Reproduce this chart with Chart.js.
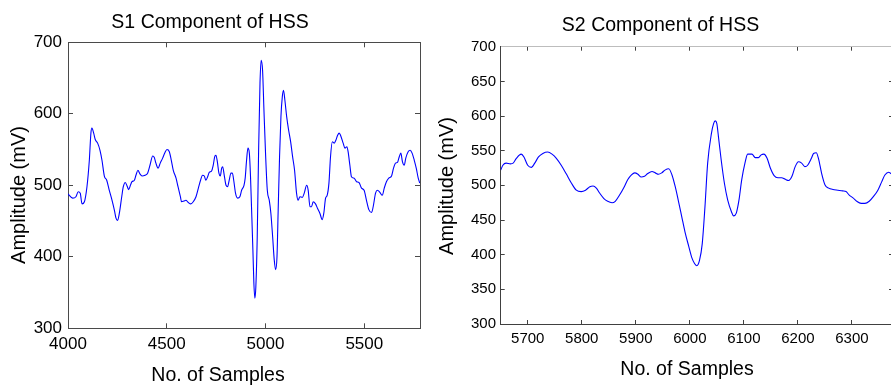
<!DOCTYPE html>
<html>
<head>
<meta charset="utf-8">
<script src="https://cdn.jsdelivr.net/npm/chart.js@4"></script>
<style>
  body { margin: 0; background: #fff; overflow: hidden; width: 891px; height: 387px; position: relative; }
  canvas { position: absolute; top: 0; }
  #s1Chart { left: 0; }
  #s2Chart { left: 428px; }
</style>
</head>
<body>
<canvas id="s1Chart" width="448" height="387"></canvas>
<canvas id="s2Chart" width="556" height="387"></canvas>
<script>
// S1 component (left)
const s1Samples = [4000, 4024, 4040, 4052, 4062, 4071, 4083, 4096, 4108, 4116, 4121, 4130, 4138, 4150, 4162, 4172, 4184, 4196, 4209, 4223, 4235, 4243, 4251, 4260, 4272, 4280, 4290, 4299, 4307, 4316, 4324, 4336, 4344, 4354, 4364, 4375, 4390, 4403, 4415, 4429, 4437, 4445, 4456, 4467, 4479, 4491, 4501, 4513, 4523, 4533, 4547, 4557, 4569, 4575, 4587, 4597, 4609, 4622, 4634, 4648, 4660, 4671, 4681, 4690, 4698, 4707, 4715, 4727, 4735, 4744, 4749, 4756, 4764, 4771, 4778, 4783, 4791, 4800, 4808, 4816, 4825, 4832, 4840, 4848, 4859, 4870, 4879, 4891, 4897, 4904, 4911, 4918, 4924, 4929, 4936, 4941, 4946, 4951, 4958, 4965, 4972, 4978, 4985, 4992, 5000, 5009, 5019, 5027, 5036, 5044, 5051, 5058, 5064, 5071, 5078, 5085, 5091, 5098, 5107, 5117, 5127, 5137, 5147, 5157, 5165, 5174, 5186, 5196, 5208, 5216, 5225, 5233, 5241, 5253, 5263, 5275, 5287, 5295, 5304, 5312, 5321, 5329, 5338, 5348, 5356, 5365, 5373, 5381, 5393, 5402, 5412, 5418, 5427, 5435, 5449, 5461, 5473, 5486, 5499, 5511, 5523, 5537, 5545, 5557, 5567, 5579, 5591, 5601, 5612, 5624, 5638, 5648, 5658, 5668, 5677, 5685, 5693, 5702, 5710, 5722, 5732, 5742, 5753, 5763, 5773, 5781];
const s1Amplitude = [488, 482, 484, 491, 489, 474, 477, 498, 535, 573, 580, 573, 564, 559, 549, 535, 513, 507, 493, 479, 465, 454, 451, 461, 484, 498, 504, 499, 494, 500, 505, 507, 514, 521, 516, 513, 514, 517, 528, 541, 539, 531, 524, 531, 538, 546, 550, 547, 535, 521, 510, 498, 484, 477, 478, 479, 476, 474, 477, 484, 496, 507, 514, 513, 507, 512, 518, 520, 528, 541, 542, 533, 517, 513, 524, 526, 514, 500, 498, 507, 517, 517, 505, 489, 482, 484, 493, 500, 510, 535, 552, 545, 512, 470, 410, 363, 342, 358, 428, 549, 643, 675, 661, 605, 545, 493, 479, 461, 428, 396, 382, 400, 465, 540, 596, 624, 633, 619, 596, 577, 561, 540, 521, 489, 479, 484, 483, 489, 500, 493, 470, 470, 477, 474, 468, 461, 452, 461, 482, 486, 503, 540, 561, 559, 563, 570, 573, 569, 559, 552, 554, 547, 528, 512, 510, 505, 504, 496, 493, 479, 466, 462, 470, 489, 493, 490, 486, 496, 505, 510, 513, 524, 531, 532, 540, 545, 533, 528, 538, 547, 549, 545, 535, 524, 510, 503];
const s1XTicks = [4000, 4500, 5000, 5500];
const s1YTicks = [300, 400, 500, 600, 700];

// S2 component (right)
const s2Samples = [5650, 5654, 5660, 5668, 5673, 5679, 5688, 5693, 5700, 5707, 5713, 5720, 5728, 5737, 5745, 5753, 5762, 5771, 5781, 5790, 5799, 5807, 5815, 5821, 5827, 5833, 5841, 5848, 5856, 5862, 5870, 5878, 5885, 5892, 5898, 5904, 5910, 5916, 5922, 5930, 5936, 5942, 5948, 5954, 5961, 5967, 5973, 5979, 5985, 5991, 5998, 6004, 6009, 6013, 6018, 6023, 6028, 6033, 6040, 6044, 6047, 6050, 6053, 6058, 6064, 6070, 6077, 6081, 6086, 6091, 6096, 6102, 6107, 6115, 6121, 6127, 6132, 6137, 6143, 6149, 6156, 6163, 6170, 6176, 6183, 6189, 6195, 6201, 6207, 6213, 6218, 6225, 6229, 6234, 6238, 6244, 6250, 6257, 6265, 6274, 6283, 6289, 6295, 6302, 6309, 6317, 6324, 6332, 6340, 6348, 6355, 6361, 6368, 6372, 6378];
const s2Amplitude = [522, 529, 532, 531, 532, 539, 545, 541, 529, 526, 532, 541, 546, 548, 545, 539, 529, 517, 503, 493, 491, 493, 498, 499, 496, 489, 481, 477, 475, 477, 486, 497, 508, 515, 518, 516, 512, 513, 517, 520, 518, 516, 518, 522, 524, 515, 498, 477, 455, 433, 412, 395, 387, 384, 392, 416, 469, 532, 575, 589, 593, 589, 570, 537, 503, 479, 462, 456, 460, 479, 508, 532, 545, 545, 540, 540, 544, 545, 539, 525, 514, 511, 511, 509, 507, 513, 527, 534, 532, 527, 529, 539, 546, 547, 539, 517, 501, 496, 494, 493, 492, 491, 486, 482, 477, 474, 474, 477, 484, 493, 505, 515, 519, 517, 515];
const s2XTicks = [5700, 5800, 5900, 6000, 6100, 6200, 6300];
const s2YTicks = [300, 350, 400, 450, 500, 550, 600, 650, 700];

const FONT = "'Liberation Sans', Arial, sans-serif";

// draws xlabel / ylabel at fixed spots, like the original figure
const axisLabels = {
    id: 'axisLabels',
    afterDraw(chart, args, opts) {
        const ctx = chart.ctx;
        ctx.save();
        ctx.fillStyle = '#000';
        ctx.textAlign = 'center';
        ctx.textBaseline = 'middle';
        ctx.font = opts.xSize + 'px ' + FONT;
        ctx.fillText(opts.xText, opts.xLabelX, opts.xLabelY);
        ctx.translate(opts.yLabelX, opts.yLabelY);
        ctx.rotate(-Math.PI / 2);
        ctx.font = opts.ySize + 'px ' + FONT;
        ctx.fillText(opts.yText, 0, 0);
        ctx.restore();
    }
};

function makeChart(id, cfg) {
    const tickList = (list) => (scale) => { scale.ticks = list.map(v => ({ value: v })); };
    const frame = { color: cfg.frameColor, width: 1 };
    const inwardGrid = { drawOnChartArea: false, tickLength: cfg.tickLen, color: cfg.frameColor };
    return new Chart(document.getElementById(id), {
        type: 'line',
        data: {
            datasets: [{
                data: cfg.samples.map((x, i) => ({ x: x, y: cfg.amplitude[i] })),
                borderColor: '#0000ff',
                borderWidth: 1.1,
                pointRadius: 0,
                cubicInterpolationMode: 'monotone',
                fill: false
            }]
        },
        plugins: [axisLabels],
        options: {
            responsive: false,
            animation: false,
            events: [],
            layout: { padding: { left: 0, right: cfg.padRight, top: 0, bottom: 0 } },
            plugins: {
                legend: { display: false },
                tooltip: { enabled: false },
                title: {
                    display: true,
                    text: cfg.title,
                    color: '#000',
                    font: { family: FONT, size: 19.5, weight: 'normal' },
                    padding: { top: cfg.titleTop, bottom: cfg.titleBottom }
                },
                axisLabels: cfg.labels
            },
            scales: {
                x: {
                    type: 'linear', position: 'bottom', min: cfg.xMin, max: cfg.xMax,
                    afterBuildTicks: tickList(cfg.xTicks),
                    afterFit: (s) => { s.height = cfg.xAxisHeight; },
                    ticks: { color: '#000', padding: cfg.xTickPad, maxRotation: 0, font: { family: FONT, size: cfg.tickSize }, callback: v => String(v) },
                    grid: inwardGrid,
                    border: frame
                },
                x2: {
                    type: 'linear', position: 'top', min: cfg.xMin, max: cfg.xMax,
                    afterBuildTicks: tickList(cfg.xTicks),
                    afterFit: (s) => { s.height = 0; },
                    ticks: { display: false },
                    grid: inwardGrid,
                    border: { color: cfg.topColor, width: 1 }
                },
                y: {
                    type: 'linear', position: 'left', min: 300, max: 700,
                    afterBuildTicks: tickList(cfg.yTicks),
                    afterFit: (s) => { s.width = cfg.yAxisWidth; },
                    ticks: { color: '#000', padding: cfg.yTickPad, font: { family: FONT, size: cfg.tickSize }, callback: v => String(v) },
                    grid: inwardGrid,
                    border: frame
                },
                y2: {
                    type: 'linear', position: 'right', min: 300, max: 700,
                    afterBuildTicks: tickList(cfg.yTicks),
                    afterFit: (s) => { s.width = 0; },
                    ticks: { display: false },
                    grid: inwardGrid,
                    border: frame
                }
            }
        }
    });
}

makeChart('s1Chart', {
    title: 'S1 Component of HSS',
    samples: s1Samples, amplitude: s1Amplitude,
    xTicks: s1XTicks, yTicks: s1YTicks,
    xMin: 4000, xMax: 5782,
    padRight: 28, yAxisWidth: 68, xAxisHeight: 58.7,
    titleTop: 11.3, titleBottom: 7.6,
    tickSize: 17, tickLen: -5, xTickPad: 11, yTickPad: 11,
    frameColor: '#4a4a4a', topColor: '#4a4a4a',
    labels: { xText: 'No. of Samples', yText: 'Amplitude (mV)', xSize: 19.5, ySize: 20, xLabelX: 218, xLabelY: 376, yLabelX: 19, yLabelY: 195 }
});

makeChart('s2Chart', {
    title: 'S2 Component of HSS',
    samples: s2Samples, amplitude: s2Amplitude,
    xTicks: s2XTicks, yTicks: s2YTicks,
    xMin: 5650, xMax: 6376,
    padRight: 91, yAxisWidth: 72.7, xAxisHeight: 63,
    titleTop: 14.1, titleBottom: 9.2,
    tickSize: 15, tickLen: -4, xTickPad: 10, yTickPad: 8.7,
    frameColor: '#404040', topColor: '#bdbdbd',
    labels: { xText: 'No. of Samples', yText: 'Amplitude (mV)', xSize: 19.5, ySize: 20, xLabelX: 259, xLabelY: 370, yLabelX: 19, yLabelY: 186 }
});
</script>
</body>
</html>
